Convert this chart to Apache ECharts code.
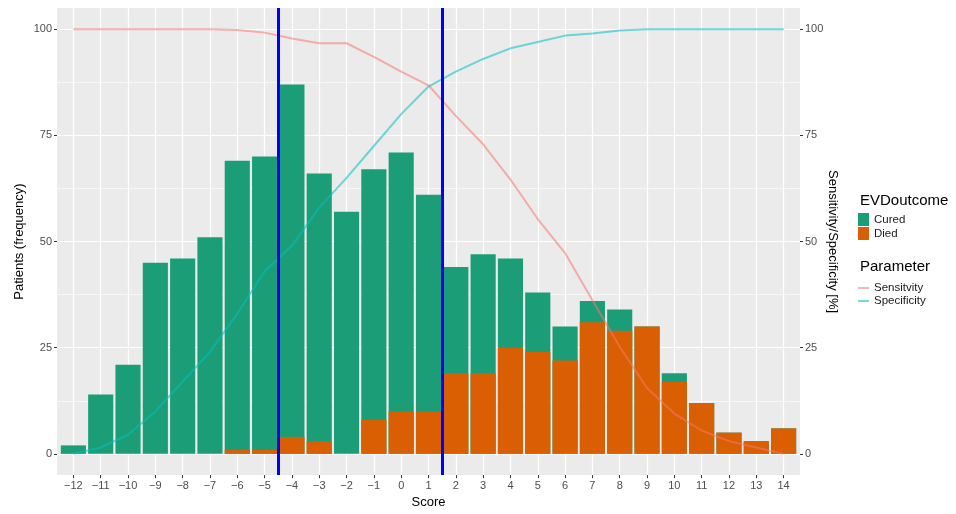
<!DOCTYPE html>
<html>
<head>
<meta charset="utf-8">
<script src="https://cdn.jsdelivr.net/npm/echarts@6/dist/echarts.min.js"></script>
<style>
  html, body { margin: 0; padding: 0; background: #fff; }
  #main { width: 956px; height: 514px; }
</style>
</head>
<body>
<div id="main"></div>
<script>
// scores on the x axis
var scores = [-12, -11, -10, -9, -8, -7, -6, -5, -4, -3, -2, -1, 0, 1, 2, 3, 4, 5, 6, 7, 8, 9, 10, 11, 12, 13, 14];
// patient counts per score
var cured = [2, 14, 21, 45, 46, 51, 68, 69, 83, 63, 57, 59, 61, 51, 25, 28, 21, 14, 8, 5, 5, 0, 2, 0, 0, 0, 0];
var died  = [0, 0, 0, 0, 0, 0, 1, 1, 4, 3, 0, 8, 10, 10, 19, 19, 25, 24, 22, 31, 29, 30, 17, 12, 5, 3, 6];
// sensitivity / specificity in %
var sensitivity = [100, 100, 100, 100, 100, 100, 99.8, 99.2, 97.8, 96.7, 96.7, 93.5, 90, 86.8, 79.6, 72.9, 64.6, 55.3, 47.3, 36.2, 25.2, 15.5, 9.5, 5.5, 3, 1.5, 0];
var specificity = [0, 1.5, 4.5, 10, 17, 24, 33, 43, 49, 58, 65, 72.5, 80, 86.5, 90, 93, 95.5, 97, 98.5, 99, 99.7, 100, 100, 100, 100, 100, 100];
// cut-off lines
var cutoffs = [-4.5, 1.5];
// tick labels
var yTicks = [0, 25, 50, 75, 100];
var yMinor = [12.5, 37.5, 62.5, 87.5];

function pairs(vals) {
    var out = [];
    for (var i in scores) {
        out.push([scores[i], vals[i]]);
    }
    return out;
}

// cured sits on top of died: draw the total behind the died bar
var total = [];
for (var i in scores) {
    total.push(cured[i] + died[i]);
}

var gridW = 956 - 57 - 156;
var barW = gridW / 27.2 * 0.92;

var nameText = { fontSize: 13, color: '#000', fontFamily: 'Liberation Sans' };
var headText = { fontSize: 15, fontWeight: 'normal', color: '#000', fontFamily: 'Liberation Sans' };
var keyText = { fontSize: 11.5, color: '#1a1a1a', fontFamily: 'Liberation Sans' };

var myChart = echarts.init(document.getElementById('main'));
myChart.setOption({
    animation: false,
    backgroundColor: '#fff',
    title: [
        { text: 'EVDoutcome', left: 855, top: 188, textStyle: headText },
        { text: 'Parameter', left: 855, top: 254, textStyle: headText }
    ],
    legend: [
        {
            data: ['Cured', 'Died'],
            orient: 'vertical',
            left: 853,
            top: 208,
            icon: 'rect',
            itemWidth: 11,
            itemHeight: 13,
            itemGap: 1,
            textStyle: keyText
        },
        {
            data: ['Sensitvity', 'Specificity'],
            orient: 'vertical',
            left: 853,
            top: 277,
            icon: 'rect',
            itemWidth: 11,
            itemHeight: 2,
            itemGap: 1,
            textStyle: keyText
        }
    ],
    grid: {
        left: 57,
        right: 156,
        top: 8,
        bottom: 31,
        show: true,
        backgroundColor: '#EBEBEB',
        borderWidth: 0
    },
    xAxis: {
        type: 'value',
        min: -12.6,
        max: 14.6,
        name: 'Score',
        nameLocation: 'middle',
        nameGap: 19,
        nameTextStyle: nameText,
        axisLine: { show: false, onZero: false },
        axisTick: { show: true, length: 3, customValues: scores, lineStyle: { color: '#333' } },
        axisLabel: {
            customValues: scores,
            margin: 5,
            fontSize: 11,
            color: '#4D4D4D',
            fontFamily: 'Liberation Sans',
            formatter: function (v) { return String(v).replace('-', '\u2212'); }
        },
        splitLine: { show: true, lineStyle: { color: '#fff', width: 1.2 } }
    },
    yAxis: [
        {
            type: 'value',
            min: -5,
            max: 105,
            name: 'Patients (frequency)',
            nameLocation: 'middle',
            nameGap: 31,
            nameMoveOverlap: false,
            nameRotate: 90,
            nameTextStyle: nameText,
            axisLine: { show: false, onZero: false },
            axisTick: { show: true, length: 3, customValues: yTicks, lineStyle: { color: '#333' } },
            axisLabel: { customValues: yTicks, margin: 5, fontSize: 11, color: '#4D4D4D', fontFamily: 'Liberation Sans' },
            splitLine: { show: true, lineStyle: { color: '#fff', width: 1.2 } }
        },
        {
            type: 'value',
            position: 'right',
            min: -5,
            max: 105,
            name: 'Sensitivity/Specificity [%]',
            nameLocation: 'middle',
            nameGap: 26,
            nameMoveOverlap: false,
            nameRotate: -90,
            nameTextStyle: nameText,
            axisLine: { show: false, onZero: false },
            axisTick: { show: true, length: 3, customValues: yTicks, lineStyle: { color: '#333' } },
            axisLabel: { customValues: yTicks, margin: 5, fontSize: 11, color: '#4D4D4D', fontFamily: 'Liberation Sans' },
            splitLine: { show: false }
        },
        {
            type: 'value',
            position: 'left',
            min: -5,
            max: 105,
            show: true,
            axisLine: { show: false, onZero: false },
            axisTick: { show: false, customValues: yMinor },
            axisLabel: { show: false, customValues: yMinor },
            splitLine: { show: true, lineStyle: { color: '#fff', width: 0.6 } }
        }
    ],
    series: [
        {
            name: 'Cured',
            type: 'bar',
            barWidth: barW,
            data: pairs(total),
            itemStyle: { color: '#1B9E77' },
            z: 2
        },
        {
            name: 'Died',
            type: 'bar',
            barWidth: barW,
            barGap: '-100%',
            data: pairs(died),
            itemStyle: { color: '#D95F02' },
            z: 2
        },
        {
            name: 'Sensitvity',
            type: 'line',
            yAxisIndex: 1,
            data: pairs(sensitivity),
            symbol: 'none',
            color: 'rgba(248,118,109,0.55)',
            lineStyle: { color: 'rgba(248,118,109,0.55)', width: 2 },
            z: 3
        },
        {
            name: 'Specificity',
            type: 'line',
            yAxisIndex: 1,
            data: pairs(specificity),
            symbol: 'none',
            color: 'rgba(0,191,196,0.55)',
            lineStyle: { color: 'rgba(0,191,196,0.55)', width: 2 },
            z: 3
        },
        {
            name: 'cutoff',
            type: 'line',
            data: [],
            z: 5,
            markLine: {
                silent: true,
                symbol: ['none', 'none'],
                label: { show: false },
                lineStyle: { color: '#0000FF', width: 3, type: 'solid' },
                data: cutoffs.map(function (c) { return { xAxis: c }; })
            }
        }
    ]
});
</script>
</body>
</html>
